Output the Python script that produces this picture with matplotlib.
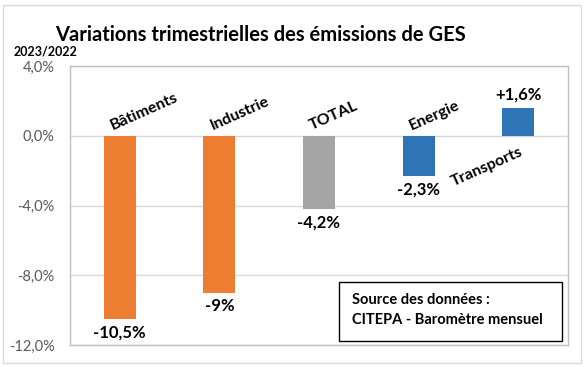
import matplotlib
matplotlib.use("Agg")
import matplotlib.pyplot as plt
from matplotlib.patches import Rectangle

categories = ["Bâtiments", "Industrie", "TOTAL", "Energie", "Transports"]
values = [-10.5, -9.0, -4.2, -2.3, 1.6]
value_labels = ["-10,5%", "-9%", "-4,2%", "-2,3%", "+1,6%"]
colors = ["#ED7D31", "#ED7D31", "#A5A5A5", "#2E75B6", "#2E75B6"]
yticks = [4, 0, -4, -8, -12]
ytick_labels = ["4,0%", "0,0%", "-4,0%", "-8,0%", "-12,0%"]

plt.rcParams['font.family'] = ['Lato', 'DejaVu Sans']

W, H = 588, 367
fig = plt.figure(figsize=(W / 100, H / 100), dpi=100)
fig.patch.set_facecolor("white")
# outer border
fig.patches.append(Rectangle((3 / W, 4 / H), 578 / W, 358 / H, transform=fig.transFigure,
                             fill=False, edgecolor="#D9D9D9", linewidth=1))

ax = fig.add_axes([70 / W, (H - 345) / H, 498 / W, 279 / H])
x = list(range(len(categories)))
ax.bar(x, values, width=0.32, color=colors, zorder=3)
ax.set_xlim(-0.5, 4.5)
ax.set_ylim(-12, 4)
ax.set_yticks(yticks)
ax.set_yticklabels(ytick_labels, color="#595959", fontsize=10.5)
ax.set_xticks([])
ax.tick_params(axis="y", length=0, pad=11)
ax.grid(axis="y", color="#D9D9D9", linewidth=1, zorder=0)
for s in ax.spines.values():
    s.set_color("#BFBFBF")
    s.set_linewidth(1)

for i, (v, lab) in enumerate(zip(values, value_labels)):
    if v < 0:
        ax.annotate(lab, (i, v), xytext=(0, -4), textcoords="offset points",
                    ha="center", va="top", fontsize=12, fontweight="bold", color="black")
    else:
        ax.annotate(lab, (i, v), xytext=(0, 4), textcoords="offset points",
                    ha="center", va="bottom", fontsize=12, fontweight="bold", color="black")

for i, (v, cat) in enumerate(zip(values, categories)):
    if v < 0:
        ax.annotate(cat, (i, 0), xytext=(-4, 2), textcoords="offset points",
                    ha="left", va="bottom", rotation=24, rotation_mode="anchor",
                    fontsize=11.5, fontweight="bold", color="black")
    else:
        ax.annotate(cat, (i, 0), xytext=(-46, -38), textcoords="offset points",
                    ha="left", va="bottom", rotation=24, rotation_mode="anchor",
                    fontsize=11.5, fontweight="bold", color="black")

fig.text(260 / W, 1 - 35 / H, "Variations trimestrielles des émissions de GES",
         ha="center", va="center", fontsize=14.5, fontweight="bold", color="black")
fig.text(14 / W, 1 - 51 / H, "2023/2022", ha="left", va="center",
         fontsize=9, fontweight="bold", color="black")

fig.patches.append(Rectangle((339 / W, (H - 341) / H), 223 / W, 59 / H, transform=fig.transFigure,
                             facecolor="white", edgecolor="black", linewidth=1, zorder=5))
fig.text(352 / W, 1 - 310 / H, "Source des données :\nCITEPA - Baromètre mensuel",
         ha="left", va="center", fontsize=10.5, fontweight="bold", color="black",
         linespacing=1.55, zorder=6)

fig.savefig("out.png", dpi=100)
